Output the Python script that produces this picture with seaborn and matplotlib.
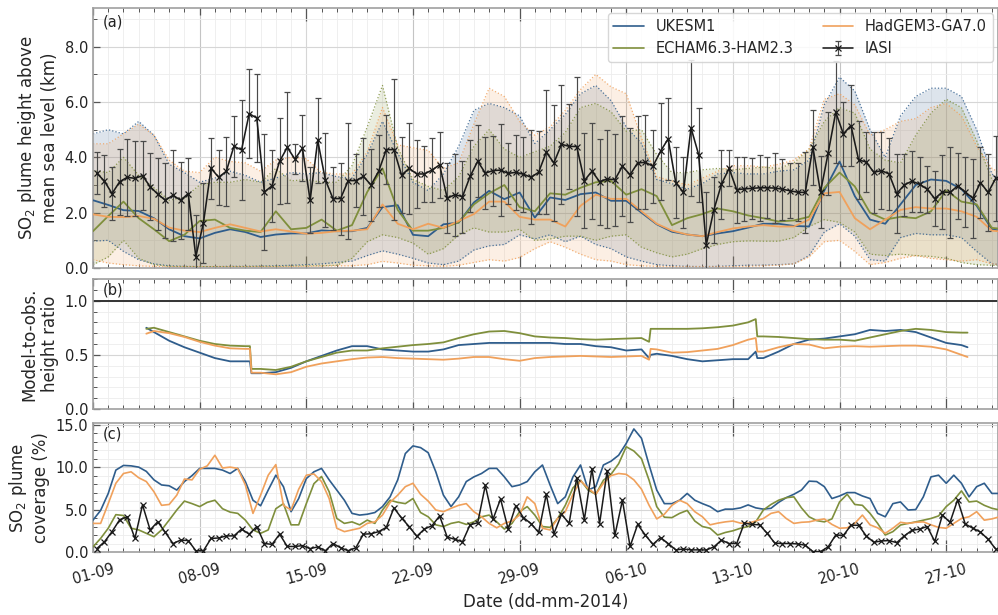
import numpy as np
import pandas as pd
import matplotlib
matplotlib.use("Agg")
import matplotlib.pyplot as plt
import matplotlib.dates as mdates
from matplotlib.ticker import MultipleLocator, FormatStrFormatter, FixedLocator
from matplotlib.lines import Line2D
import seaborn as sns

START = pd.Timestamp("2014-09-01")

# ---------------- data ----------------
model_names = ["UKESM1", "ECHAM6.3-HAM2.3", "HadGEM3-GA7.0"]
model_colors = ["#2f5d8c", "#7f8f3c", "#f0a15c"]

# (a) daily SO2 plume height (km), 1 Sep .. 31 Oct
ukesm_height = [2.45, 2.28, 2.09, 2.06, 1.8, 1.4, 1.15, 1.07, 1.27, 1.4,
                1.3, 1.12, 1.21, 1.25, 1.25, 1.36, 1.33, 1.33, 1.45, 2.2,
                2.27, 1.2, 1.15, 1.58, 1.64, 2.37, 2.79, 2.49, 2.73, 1.82,
                2.55, 2.46, 2.67, 2.73, 2.43, 2.43, 2.0, 1.58, 1.31, 1.21,
                1.15, 1.25, 1.33, 1.46, 1.6, 1.6, 1.52, 1.5, 2.8, 3.85,
                2.6, 1.75, 1.6, 2.3, 3.0, 3.2, 3.15, 2.85, 2.25, 1.4, 1.3]
ukesm_height_hi = [4.85, 5.0, 4.85, 5.3, 4.8, 3.75, 3.45, 3.1, 3.25, 3.5,
                   3.35, 3.1, 3.25, 3.45, 3.4, 3.45, 3.3, 3.25, 4.1, 5.3,
                   4.15, 3.1, 2.8, 3.4, 4.4, 5.7, 5.95, 5.8, 5.5, 4.5,
                   5.0, 5.55, 6.3, 6.6, 6.05, 5.1, 4.5, 3.2, 3.05, 2.85,
                   3.05, 3.4, 3.45, 3.4, 3.4, 3.5, 3.55, 3.9, 5.9, 6.9,
                   6.4, 5.0, 4.0, 5.5, 6.2, 6.5, 6.5, 6.2, 5.0, 3.4, 3.0]
ukesm_height_lo = [0.97, 1.0, 0.6, 0.3, 0.15, 0.08, 0.06, 0.05, 0.05, 0.06,
                   0.06, 0.07, 0.08, 0.1, 0.12, 0.15, 0.2, 0.25, 0.45, 0.62,
                   0.5, 0.35, 0.18, 0.12, 0.25, 0.65, 0.8, 0.85, 1.2, 1.05,
                   1.2, 0.95, 1.15, 0.85, 0.7, 0.4, 0.25, 0.12, 0.08, 0.06,
                   0.05, 0.06, 0.08, 0.1, 0.1, 0.12, 0.15, 0.45, 1.3, 1.6,
                   1.15, 0.3, 0.25, 1.1, 1.25, 1.2, 1.2, 1.1, 0.6, 0.15, 0.1]

echam_height = [1.33, 1.88, 2.4, 1.8, 1.4, 0.97, 1.2, 1.7, 1.75, 1.45,
                1.35, 1.3, 2.05, 1.4, 1.45, 1.75, 1.35, 1.55, 2.75, 3.6,
                2.1, 1.35, 1.35, 1.45, 1.65, 2.3, 2.7, 3.0, 2.2, 2.05,
                2.7, 2.65, 2.9, 3.1, 3.15, 2.65, 2.85, 2.6, 1.55, 1.8,
                1.95, 2.15, 2.05, 1.9, 1.8, 1.68, 1.72, 1.85, 2.9, 3.45,
                2.95, 2.0, 1.75, 1.85, 1.8, 2.05, 2.8, 2.4, 2.3, 1.45, 1.4]
echam_height_hi = [3.52, 3.45, 4.0, 3.35, 2.9, 2.45, 2.55, 3.0, 3.1, 3.1,
                   3.2, 3.1, 3.6, 3.15, 3.2, 3.1, 3.1, 3.7, 5.1, 6.6,
                   4.35, 3.2, 2.95, 2.8, 3.3, 4.4, 5.0, 4.3, 4.0, 4.2,
                   4.4, 4.9, 5.8, 5.95, 5.65, 4.95, 5.0, 4.1, 3.45, 3.45,
                   3.55, 3.6, 3.55, 3.6, 3.65, 3.6, 3.8, 4.3, 5.3, 5.8,
                   5.6, 4.3, 3.9, 3.8, 4.8, 5.6, 6.1, 5.8, 4.6, 3.2, 2.8]
echam_height_lo = [0.12, 0.4, 1.0, 0.35, 0.12, 0.06, 0.05, 0.05, 0.05, 0.05,
                   0.05, 0.06, 0.06, 0.07, 0.08, 0.08, 0.1, 0.35, 0.95, 1.2,
                   1.1, 0.9, 0.5, 0.7, 1.2, 1.45, 1.3, 1.3, 1.4, 1.0,
                   1.05, 1.15, 1.15, 1.0, 1.15, 1.2, 0.75, 0.55, 0.4, 0.5,
                   0.7, 0.85, 0.95, 0.98, 0.97, 0.97, 1.1, 1.5, 1.75, 1.65,
                   1.3, 0.5, 0.45, 0.5, 0.45, 0.42, 0.35, 0.2, 0.12, 0.1, 0.08]

hadgem_height = [1.94, 1.85, 1.84, 1.88, 1.78, 1.46, 1.35, 1.3, 1.45, 1.58,
                 1.45, 1.32, 1.4, 1.32, 1.24, 1.27, 1.33, 1.35, 1.4, 2.3,
                 1.6, 1.4, 1.6, 1.45, 1.7, 1.95, 2.4, 2.4, 1.85, 1.75,
                 1.75, 1.5, 2.25, 2.65, 2.5, 2.5, 2.05, 1.6, 1.35, 1.21,
                 1.15, 1.3, 1.43, 1.5, 1.55, 1.5, 1.5, 1.75, 2.7, 2.75,
                 1.8, 1.4, 1.75, 2.1, 2.2, 2.15, 2.15, 2.05, 1.85, 1.35, 1.3]
hadgem_height_hi = [4.49, 4.49, 4.85, 5.2, 4.8, 3.9, 3.5, 3.45, 4.0, 3.85,
                    3.8, 3.5, 3.9, 4.0, 3.95, 3.45, 3.4, 3.4, 4.2, 5.8,
                    4.45, 4.35, 4.25, 3.6, 3.8, 5.2, 6.5, 6.2, 5.3, 4.8,
                    5.1, 5.7, 6.45, 7.0, 6.55, 6.3, 4.7, 3.3, 3.15, 3.0,
                    3.25, 3.5, 3.7, 3.7, 3.65, 3.75, 3.9, 4.3, 6.1, 6.3,
                    5.9, 4.8, 5.0, 5.3, 5.4, 5.8, 5.95, 5.5, 4.4, 3.6, 3.3]
hadgem_height_lo = [0.3, 0.18, 0.12, 0.08, 0.06, 0.05, 0.05, 0.05, 0.05, 0.05,
                    0.05, 0.05, 0.05, 0.05, 0.06, 0.07, 0.08, 0.08, 0.12, 0.24,
                    0.18, 0.1, 0.08, 0.06, 0.1, 0.2, 0.3, 0.25, 0.38, 0.7,
                    0.95, 0.75, 0.5, 0.3, 0.25, 0.12, 0.08, 0.06, 0.05, 0.05,
                    0.05, 0.05, 0.05, 0.06, 0.08, 0.1, 0.15, 0.4, 0.95, 1.0,
                    0.6, 0.12, 0.2, 0.35, 0.45, 0.35, 0.3, 0.25, 0.3, 0.15, 0.1]

# IASI retrievals, twice daily (06 and 18 UTC)
iasi_height = [3.43, 3.14, 2.69, 3.12, 3.28, 3.24, 3.34, 2.94, 2.67, 2.45,
               2.63, 2.45, 2.69, 0.41, 1.64, 3.6, 3.28, 3.5, 4.4, 4.27,
               5.58, 5.42, 2.75, 2.97, 3.86, 4.36, 3.94, 4.33, 2.45, 4.61,
               3.19, 2.51, 2.51, 3.16, 3.16, 3.31, 3.0, 3.5, 4.28, 4.28,
               3.36, 3.6, 3.4, 3.4, 3.54, 3.73, 2.52, 2.65, 2.58, 3.31,
               3.86, 3.43, 3.52, 3.54, 3.42, 3.46, 3.39, 3.28, 3.46, 4.19,
               3.8, 4.47, 4.4, 4.39, 3.16, 3.5, 3.12, 3.22, 3.19, 3.68,
               3.37, 3.8, 3.82, 3.68, 4.22, 4.67, 3.09, 2.73, 5.07, 4.1,
               0.83, 2.1, 3.03, 3.6, 2.83, 2.86, 2.88, 2.9, 2.9, 2.89,
               2.85, 2.79, 2.74, 2.73, 4.36, 2.75, 4.15, 5.63, 4.85, 5.15,
               3.91, 3.83, 3.46, 3.52, 3.4, 2.69, 3.0, 3.14, 3.03, 2.85,
               2.51, 2.75, 2.73, 2.97, 2.75, 2.52, 3.09, 2.73, 3.24]
iasi_height_err = [0.75, 0.95, 0.95, 1.2, 1.4, 1.35, 1.25, 1.2, 1.3, 1.35,
                   1.65, 1.4, 1.3, 1.5, 1.45, 1.1, 1.0, 1.25, 1.1, 1.8,
                   1.6, 1.6, 2.1, 1.3, 1.55, 2.0, 0.55, 1.2, 1.2, 1.55,
                   1.7, 1.15, 1.3, 2.1, 0.95, 1.38, 1.29, 1.3, 1.26, 2.55,
                   1.37, 1.64, 1.24, 1.0, 1.15, 1.19, 1.26, 1.48, 1.3, 1.3,
                   1.3, 1.31, 1.27, 1.66, 1.09, 1.36, 1.36, 1.7, 1.5, 2.25,
                   2.09, 2.15, 1.54, 2.52, 1.72, 1.74, 1.55, 1.76, 1.66, 1.8,
                   1.69, 1.68, 1.7, 1.32, 1.76, 1.48, 1.3, 1.3, 2.45, 1.7,
                   1.9, 1.2, 1.25, 0.65, 1.2, 1.15, 1.1, 1.2, 1.1, 1.25,
                   1.1, 1.0, 1.05, 1.45, 1.36, 1.3, 1.5, 1.84, 1.15, 1.47,
                   1.4, 1.1, 1.46, 1.4, 1.3, 1.43, 1.13, 1.1, 1.0, 0.85,
                   1.0, 1.33, 1.64, 1.19, 1.25, 1.42, 1.27, 1.4, 1.53]

# (b) model-to-observation height ratio (running mean), day offsets from 1 Sep
ratio_day = [3.5, 4, 5, 6, 7, 8, 9, 10, 10.3, 10.4,
             11, 12, 13, 14, 15, 16, 17, 18, 19, 20, 21, 22, 23, 24, 25, 26,
             27, 28, 29, 30, 31, 32, 33, 34, 35, 36, 36.5, 36.6,
             37, 38, 39, 40, 41, 42, 43, 43.5, 43.6,
             44, 45, 46, 47, 48, 49, 50, 51, 52, 53, 54, 55, 56, 57, 57.4]
ukesm_ratio = [0.75, 0.71, 0.63, 0.57, 0.52, 0.47, 0.44, 0.44, 0.44, 0.33,
               0.33, 0.34, 0.38, 0.44, 0.49, 0.54, 0.58, 0.58, 0.55, 0.54, 0.53,
               0.53, 0.55, 0.59, 0.6, 0.61, 0.61, 0.61, 0.61, 0.61, 0.6, 0.6,
               0.58, 0.57, 0.54, 0.55, 0.47, 0.5,
               0.51, 0.49, 0.46, 0.44, 0.45, 0.46, 0.46, 0.53, 0.47,
               0.47, 0.53, 0.6, 0.64, 0.65, 0.67, 0.69, 0.73, 0.72, 0.73, 0.71,
               0.66, 0.61, 0.59, 0.57]
echam_ratio = [0.74, 0.75, 0.71, 0.67, 0.63, 0.6, 0.585, 0.58, 0.58, 0.37,
               0.37, 0.36, 0.39, 0.44, 0.48, 0.52, 0.54, 0.54, 0.56, 0.575, 0.59,
               0.6, 0.615, 0.655, 0.69, 0.715, 0.72, 0.7, 0.67, 0.66, 0.655, 0.645,
               0.64, 0.645, 0.65, 0.655, 0.62, 0.74,
               0.74, 0.74, 0.74, 0.745, 0.755, 0.77, 0.8, 0.83, 0.67,
               0.67, 0.665, 0.655, 0.645, 0.64, 0.64, 0.63, 0.66, 0.69, 0.72, 0.74,
               0.73, 0.71, 0.705, 0.705]
hadgem_ratio = [0.695, 0.72, 0.7, 0.665, 0.62, 0.585, 0.56, 0.555, 0.555, 0.335,
                0.335, 0.32, 0.34, 0.39, 0.42, 0.44, 0.46, 0.475, 0.48, 0.47, 0.465,
                0.46, 0.455, 0.465, 0.48, 0.48, 0.46, 0.445, 0.47, 0.48, 0.485, 0.49,
                0.485, 0.48, 0.485, 0.49, 0.455, 0.555,
                0.55, 0.52, 0.525, 0.54, 0.555, 0.59, 0.64, 0.655, 0.53,
                0.53, 0.57, 0.6, 0.595, 0.56, 0.575, 0.58, 0.575, 0.58, 0.585, 0.585,
                0.575, 0.55, 0.5, 0.48]

# (c) SO2 plume coverage (%), 12-hourly model output
ukesm_cover = [3.76, 4.9, 6.9, 9.65, 10.2, 10.15, 10.0, 9.5, 8.5, 7.9,
               7.8, 7.3, 8.3, 9.0, 9.85, 9.85, 9.85, 9.65, 9.25, 9.85,
               8.3, 6.1, 5.45, 7.3, 9.05, 7.7, 4.75, 6.3, 8.65, 9.45,
               9.85, 8.5, 7.3, 6.1, 4.55, 4.35, 4.45, 4.65, 5.35, 6.5,
               8.5, 11.6, 12.5, 12.3, 11.7, 9.45, 6.7, 5.35, 6.5, 8.3,
               8.85, 9.25, 9.85, 9.85, 8.85, 7.7, 7.9, 8.3, 9.45, 10.25,
               7.9, 5.7, 6.5, 8.85, 10.25, 7.3, 7.7, 10.25, 10.7, 11.4,
               12.8, 14.5, 13.4, 10.25, 7.3, 5.7, 5.7, 6.1, 6.9, 6.1,
               5.7, 5.35, 4.75, 5.05, 5.05, 5.2, 5.55, 5.2, 5.05, 5.15,
               5.85, 6.4, 6.8, 7.3, 8.35, 8.3, 7.7, 6.3, 6.6, 7.0,
               7.0, 6.6, 6.3, 4.55, 4.15, 5.7, 5.9, 4.95, 5.0, 6.5,
               8.85, 9.05, 8.1, 9.05, 8.1, 6.5, 7.7, 8.1, 6.9, 6.9]
echam_cover = [0.6, 1.6, 2.8, 4.4, 4.3, 2.8, 2.6, 2.2, 1.8, 2.6,
               3.76, 4.95, 6.0, 5.7, 5.35, 5.85, 6.1, 5.1, 4.7, 4.55,
               3.76, 2.6, 2.2, 2.6, 5.1, 5.7, 3.2, 3.2, 5.7, 8.05,
               8.9, 7.1, 3.96, 3.37, 3.55, 3.2, 3.76, 3.37, 4.95, 6.1,
               5.85, 5.7, 6.3, 4.65, 4.15, 3.2, 3.0, 3.37, 3.55, 3.25,
               3.55, 4.15, 4.35, 3.55, 2.7, 3.37, 4.75, 5.35, 4.35, 3.0,
               2.9, 3.95, 5.5, 7.55, 8.45, 7.3, 6.8, 8.45, 9.15, 10.4,
               12.4, 11.9, 11.0, 8.45, 5.35, 4.1, 4.05, 4.55, 4.9, 3.65,
               3.0, 2.8, 2.0, 2.3, 2.5, 2.8, 3.0, 3.55, 4.95, 5.6,
               6.1, 6.4, 6.5, 5.2, 4.15, 3.7, 3.55, 3.9, 5.9, 6.8,
               5.6, 5.5, 4.55, 3.37, 2.0, 2.4, 3.18, 3.37, 3.55, 3.75,
               3.95, 4.25, 5.35, 6.1, 7.2, 5.9, 6.0, 5.5, 5.15, 4.95]
hadgem_cover = [3.37, 3.37, 5.7, 8.1, 9.25, 9.45, 8.75, 8.3, 7.1, 5.5,
                5.6, 6.7, 8.6, 8.5, 9.75, 10.15, 11.4, 9.9, 10.0, 9.85,
                7.9, 4.55, 6.7, 9.05, 10.3, 5.5, 4.95, 7.4, 9.05, 9.2,
                8.3, 6.3, 2.8, 2.4, 2.6, 2.8, 3.37, 3.55, 4.35, 5.85,
                6.7, 7.7, 8.1, 6.8, 6.0, 4.95, 4.75, 5.15, 5.5, 5.7,
                4.75, 4.15, 3.37, 2.85, 3.37, 3.65, 4.35, 6.5, 5.7, 2.8,
                2.6, 3.95, 4.75, 6.8, 8.4, 7.5, 6.8, 8.1, 9.0, 9.25,
                9.15, 8.5, 7.4, 5.5, 3.9, 4.45, 5.5, 6.1, 5.7, 4.75,
                4.15, 3.2, 3.4, 3.55, 3.65, 3.4, 3.4, 3.65, 3.95, 4.55,
                4.75, 3.95, 3.37, 3.5, 3.55, 3.75, 3.9, 3.25, 2.8, 2.85,
                3.37, 4.35, 3.2, 2.85, 2.2, 2.8, 3.5, 3.37, 3.5, 3.55,
                3.2, 2.9, 2.8, 3.37, 3.95, 4.15, 4.75, 3.75, 3.9, 4.15]
iasi_cover = [0.4, 1.2, 2.4, 3.8, 4.15, 1.6, 5.55, 2.6, 3.57, 2.3,
              1.0, 1.4, 1.35, 0.15, 0.15, 1.6, 1.65, 1.9, 1.9, 2.7,
              2.1, 3.0, 1.0, 0.9, 2.1, 0.65, 0.65, 0.75, 0.4, 0.6,
              0.15, 1.0, 0.5, 0.15, 0.5, 2.1, 2.15, 2.4, 2.9, 5.2,
              4.0, 3.0, 1.85, 2.7, 3.1, 4.25, 1.75, 1.5, 1.2, 3.2,
              3.45, 7.85, 3.85, 6.25, 2.7, 5.45, 4.05, 3.35, 2.3, 6.8,
              2.15, 4.45, 3.37, 8.75, 3.8, 9.8, 3.35, 9.6, 1.95, 6.1,
              0.65, 3.25, 2.0, 0.9, 1.7, 1.0, 0.25, 0.35, 0.25, 0.25,
              0.24, 0.6, 1.4, 1.0, 1.0, 3.4, 3.25, 3.2, 2.2, 1.05,
              1.0, 1.0, 0.95, 0.8, 0.05, 0.05, 0.6, 2.0, 1.95, 3.15,
              3.15, 1.9, 1.15, 1.3, 1.35, 1.1, 1.9, 2.55, 2.7, 3.0,
              1.25, 4.35, 3.5, 6.15, 3.3, 2.8, 2.35, 1.5, 0.35]

week_labels = ["01-09", "08-09", "15-09", "22-09", "29-09",
               "06-10", "13-10", "20-10", "27-10"]

# ---------------- time axes ----------------
daily_time = pd.date_range(START, periods=len(ukesm_height), freq="D")
half_daily_time = pd.date_range(START, periods=len(ukesm_cover), freq="12h")
iasi_time = pd.date_range(START + pd.Timedelta(hours=6),
                          periods=len(iasi_height), freq="12h")
ratio_time = START + pd.to_timedelta(ratio_day, unit="D")
week_ticks = pd.date_range(START, periods=len(week_labels), freq="7D")

heights = [(ukesm_height, ukesm_height_lo, ukesm_height_hi),
           (echam_height, echam_height_lo, echam_height_hi),
           (hadgem_height, hadgem_height_lo, hadgem_height_hi)]
ratios = [ukesm_ratio, echam_ratio, hadgem_ratio]
covers = [ukesm_cover, echam_cover, hadgem_cover]

# ---------------- figure ----------------
sns.set_theme(style="whitegrid")
plt.rcParams["font.family"] = ["DejaVu Sans"]

fig = plt.figure(figsize=(9.98, 6.15), dpi=100)
W, H = 998.0, 615.0
left, width = 93 / W, 905 / W
ax_a = fig.add_axes([left, 1 - 268 / H, width, 260 / H])
ax_b = fig.add_axes([left, 1 - 409 / H, width, 130 / H])
ax_c = fig.add_axes([left, 1 - 552 / H, width, 129 / H])
axes = [ax_a, ax_b, ax_c]

# (a) bands, their edges, and mean heights
for (mean, lo, hi), color in zip(heights, model_colors):
    ax_a.fill_between(daily_time, lo, hi, color=color, alpha=0.16, lw=0, zorder=1)
    sns.lineplot(x=daily_time, y=lo, ax=ax_a, color=color, lw=0.9,
                 linestyle=":", alpha=0.85, zorder=2)
    sns.lineplot(x=daily_time, y=hi, ax=ax_a, color=color, lw=0.9,
                 linestyle=":", alpha=0.85, zorder=2)
for (mean, lo, hi), color, name in zip(heights, model_colors, model_names):
    sns.lineplot(x=daily_time, y=mean, ax=ax_a, color=color, lw=1.3,
                 zorder=3, label=name)

iasi_handle = ax_a.errorbar(iasi_time, iasi_height, yerr=iasi_height_err,
                            fmt="-", color="k", lw=1.15, marker="x", ms=4,
                            mew=0.9, ecolor="#4a4a4a", elinewidth=0.85,
                            capsize=2.5, capthick=0.85, zorder=4, label="IASI")

# (b) ratios
ax_b.axhline(1.0, color="#333333", lw=1.4, zorder=2)
for vals, color in zip(ratios, model_colors):
    sns.lineplot(x=ratio_time, y=vals, ax=ax_b, color=color, lw=1.3, zorder=3)

# (c) coverage
for vals, color in zip(covers, model_colors):
    sns.lineplot(x=half_daily_time, y=vals, ax=ax_c, color=color, lw=1.2, zorder=3)
sns.lineplot(x=iasi_time, y=iasi_cover, ax=ax_c, color="k", lw=1.1,
             marker="x", markersize=5, markeredgecolor="k",
             markeredgewidth=0.9, zorder=4)

# ---------------- axes styling ----------------
x_end = START + pd.Timedelta(days=59.4)
for ax in axes:
    ax.set_xlim(START, x_end)
    ax.xaxis.set_major_locator(FixedLocator(mdates.date2num(week_ticks)))
    ax.xaxis.set_minor_locator(mdates.DayLocator())
    ax.grid(which="major", color="#d6d6d6", lw=0.8)
    ax.grid(which="minor", color="#ededed", lw=0.6)
    ax.set_axisbelow(True)
    ax.tick_params(axis="both", which="both", direction="in", colors="#555555",
                   labelcolor="#222222", labelsize=10.5)
    ax.tick_params(axis="x", which="both", top=True, bottom=True)
    ax.tick_params(axis="y", which="both", left=True)
    ax.tick_params(which="major", length=5, width=0.9)
    ax.tick_params(which="minor", length=3, width=0.7)
    for sp in ax.spines.values():
        sp.set_color("#a0a0a0")
        sp.set_linewidth(1.2)
    ax.set_xlabel("")
    if ax.get_legend() is not None:
        ax.get_legend().remove()

ax_a.set_ylim(0, 9.4)
ax_a.yaxis.set_major_locator(MultipleLocator(2))
ax_a.yaxis.set_minor_locator(MultipleLocator(1))
ax_b.set_ylim(0, 1.2)
ax_b.yaxis.set_major_locator(MultipleLocator(0.5))
ax_b.yaxis.set_minor_locator(MultipleLocator(0.1))
ax_c.set_ylim(0, 15.2)
ax_c.yaxis.set_major_locator(MultipleLocator(5))
ax_c.yaxis.set_minor_locator(MultipleLocator(1))
for ax in axes:
    ax.yaxis.set_major_formatter(FormatStrFormatter("%.1f"))

for ax in (ax_a, ax_b):
    ax.tick_params(axis="x", labelbottom=False)
ax_c.set_xticklabels(week_labels, rotation=15, ha="center")
ax_c.tick_params(axis="x", which="major", pad=7)

# alternate week markers: long ticks every second week, darker grid on the others
for ax in axes:
    for i, tick in enumerate(ax.xaxis.get_major_ticks()):
        if i % 2 == 0 and i > 0:
            tick.tick1line.set_markersize(9)
            tick.tick2line.set_markersize(9)
            tick.tick1line.set_color("#222222")
            tick.tick2line.set_color("#222222")
        elif i % 2 == 1:
            tick.gridline.set_color("#c4c4c4")

ax_a.set_ylabel("SO$_2$ plume height above\nmean sea level (km)", fontsize=12)
ax_b.set_ylabel("Model-to-obs.\nheight ratio", fontsize=12)
ax_c.set_ylabel("SO$_2$ plume\ncoverage (%)", fontsize=12)
ax_c.set_xlabel("Date (dd-mm-2014)", fontsize=12)
fig.align_ylabels(axes)

for ax, tag in zip(axes, ["(a)", "(b)", "(c)"]):
    ax.text(0.011, 0.975, tag, transform=ax.transAxes, va="top", ha="left",
            fontsize=10.5, color="#222222")

model_handles = [Line2D([], [], color=c, lw=1.2) for c in model_colors]
handles = [model_handles[0], model_handles[1], model_handles[2], iasi_handle]
labels = [model_names[0], model_names[1], model_names[2], "IASI"]
ax_a.legend(handles, labels, ncol=2, loc="upper right", fontsize=10.5,
            frameon=True, framealpha=0.85, edgecolor="#d0d0d0",
            columnspacing=2.0, handlelength=2.1, handletextpad=0.8,
            borderaxespad=0.35)

fig.savefig("out.png", dpi=100)
